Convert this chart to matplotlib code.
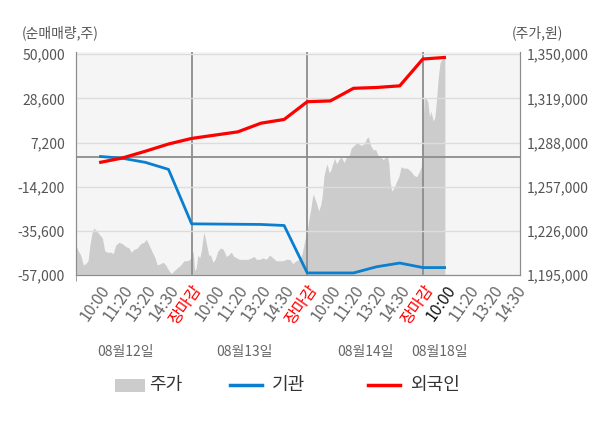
import matplotlib
matplotlib.use("Agg")
import matplotlib.pyplot as plt
import matplotlib.transforms as mtransforms
from matplotlib.patches import Rectangle
from matplotlib.lines import Line2D
from matplotlib.ticker import FuncFormatter

plt.rcParams['font.family'] = ['Noto Sans CJK KR', 'DejaVu Sans']

# ---- data ----
tick_labels = ["10:00", "11:20", "13:20", "14:30", "장마감"] * 3 + ["10:00", "11:20", "13:20", "14:30"]
date_labels = ["08월12일", "08월13일", "08월14일", "08월18일"]

# net buying (shares) at each time slot
flow_pos = [1, 2, 3, 4, 5, 6, 7, 8, 9, 10, 11, 12, 13, 14, 15, 16]
foreign = [-2500, -300, 3000, 6500, 9200, 10800, 12400, 16600, 18400, 27000,
           27400, 33500, 33900, 34700, 47700, 48500]
institution = [500, -400, -2400, -5800, -32200, -32300, -32400, -32500, -33000, -56000,
               -56000, -56000, -53000, -51200, -53400, -53400]

# stock price (won)
price_pos = [0.00, 0.09, 0.20, 0.32, 0.42, 0.52, 0.61, 0.70, 0.78, 0.89, 0.99, 1.14, 1.24, 1.35,
             1.50, 1.61, 1.72, 1.86, 2.00, 2.15, 2.29, 2.39, 2.51, 2.65, 2.80, 2.94, 3.04, 3.16,
             3.30, 3.42, 3.51, 3.66, 3.77, 3.88, 4.02, 4.12, 4.24, 4.38, 4.53, 4.67, 4.81, 4.93,
             5.03, 5.07, 5.13, 5.20, 5.27, 5.35, 5.42, 5.49, 5.53, 5.59, 5.65, 5.74, 5.82, 5.92,
             6.02, 6.14, 6.26, 6.37, 6.50, 6.60, 6.71, 6.83, 6.95, 7.06, 7.18, 7.29, 7.44, 7.58,
             7.70, 7.80, 7.94, 8.08, 8.23, 8.37, 8.52, 8.66, 8.81, 8.95, 9.09, 9.24, 9.38, 9.52,
             9.67, 9.78, 9.89, 9.97, 10.00, 10.07, 10.15, 10.22, 10.26, 10.32, 10.41, 10.49, 10.58,
             10.65, 10.72, 10.80, 10.86, 10.94, 11.01, 11.08, 11.18, 11.27, 11.37, 11.47, 11.59,
             11.70, 11.80, 11.90, 12.02, 12.14, 12.24, 12.33, 12.45, 12.57, 12.64, 12.74, 12.85,
             12.96, 13.06, 13.17, 13.29, 13.39, 13.46, 13.53, 13.58, 13.65, 13.75, 13.87, 13.96,
             14.06, 14.18, 14.32, 14.47, 14.61, 14.73, 14.83, 14.93, 15.00, 15.06, 15.13, 15.21,
             15.29, 15.35, 15.45, 15.52, 15.59, 15.66, 15.74, 15.81, 15.88, 15.95]
price = [1216000, 1212000, 1209000, 1202000, 1203000, 1205000, 1217000, 1225000, 1228000, 1226000,
         1224000, 1221000, 1212000, 1211000, 1211000, 1210000, 1216000, 1218000, 1217000, 1215000,
         1214000, 1211000, 1213000, 1214000, 1217000, 1218000, 1220000, 1216000, 1211000, 1207000,
         1202000, 1203000, 1204000, 1202000, 1198000, 1196000, 1198000, 1200000, 1202000, 1205000,
         1205000, 1206000, 1211000,
         1211000, 1198000, 1200000, 1209000, 1207000, 1212000, 1221000, 1225000, 1221000, 1216000,
         1209000, 1209000, 1204000, 1206000, 1212000, 1214000, 1213000, 1208000, 1209000, 1211000,
         1208000, 1207000, 1206000, 1206000, 1206000, 1206000, 1207000, 1208000, 1206000, 1206000,
         1207000, 1206000, 1209000, 1207000, 1205000, 1205000, 1205000, 1206000, 1206000, 1203000,
         1205000, 1206000, 1210000, 1219000, 1224000,
         1226000, 1234000, 1241000, 1249000, 1252000, 1249000, 1245000, 1240000, 1244000, 1251000,
         1264000, 1270000, 1273000, 1267000, 1268000, 1272000, 1277000, 1273000, 1276000, 1278000,
         1274000, 1278000, 1278000, 1284000, 1286000, 1288000, 1287000, 1286000, 1287000, 1291000,
         1292000, 1286000, 1283000, 1283000, 1279000, 1278000, 1276000, 1278000, 1279000, 1273000,
         1261000, 1254000, 1256000, 1261000, 1264000, 1271000, 1270000, 1270000, 1268000, 1265000,
         1264000, 1267000, 1271000,
         1300000, 1320000, 1319000, 1317000, 1306000, 1310000, 1303000, 1306000, 1318000, 1333000,
         1344000, 1346000, 1347000, 1347000]

left_ticks = [-57000, -35600, -14200, 7200, 28600, 50000]
right_ticks = [1195000, 1226000, 1257000, 1288000, 1319000, 1350000]
day_bounds = [0, 5, 10, 15]

# ---- figure ----
fig = plt.figure(figsize=(6.0, 4.28), dpi=100)
fig.patch.set_facecolor('white')
ax = fig.add_axes([76/600, 1-275/428, 444/600, 223/428])
ax2 = ax.twinx()
ax.set_zorder(ax2.get_zorder() + 1)
ax.patch.set_visible(False)
ax2.patch.set_visible(True)
ax2.set_facecolor('#f5f5f5')

xmax = 19.2
ax.set_xlim(0, xmax)

# price area
ax2.fill_between(price_pos, 1195000, price, color='#cccccc', lw=0)
ax2.set_ylim(1195000, 1351600)
ax2.set_yticks(right_ticks)
ax2.yaxis.set_major_formatter(FuncFormatter(lambda v, p: f"{int(v):,}"))
ax2.tick_params(axis='y', length=0, pad=5, labelsize=10, labelcolor='#555555')

# flows
ax.set_ylim(-57000, 51100)
ax.set_yticks(left_ticks)
ax.yaxis.set_major_formatter(FuncFormatter(lambda v, p: f"{int(v):,}"))
ax.tick_params(axis='y', length=0, pad=8, labelsize=10, labelcolor='#555555')
ax.grid(axis='y', color='#dcdcdc', lw=1)
ax.axhline(0, color='#8c8c8c', lw=1.3, zorder=1.5)
for b in day_bounds[1:]:
    ax.axvline(b, color='#8c8c8c', lw=1.3, zorder=1.5)

ax.plot(flow_pos, institution, color='#0a7fcf', lw=2.0, zorder=3, solid_capstyle='butt')
ax.plot(flow_pos, foreign, color='#ff0000', lw=2.3, zorder=4, solid_capstyle='butt')

# spines
for a in (ax, ax2):
    a.spines['top'].set_visible(False)
    for s in ('left', 'right', 'bottom'):
        a.spines[s].set_color('#8c8c8c')

# x axis
ax.set_xticks(range(1, len(tick_labels) + 1))
ax.set_xticklabels(tick_labels, rotation=55, ha='right', va='top', rotation_mode='anchor')
ax.set_xticks(day_bounds, minor=True)
ax.tick_params(axis='x', which='major', length=0, pad=5, labelsize=11.5)
ax.tick_params(axis='x', which='minor', length=4, color='#8c8c8c')
for i, lbl in enumerate(ax.get_xticklabels()):
    if lbl.get_text() == '장마감':
        lbl.set_color('#ff0000')
    elif i == 15:
        lbl.set_color('#111111')
    else:
        lbl.set_color('#666666')

# date labels
date_pos = [2.12, 7.3, 12.5, 15.74]
trans = mtransforms.blended_transform_factory(ax.transData, fig.transFigure)
for p, t in zip(date_pos, date_labels):
    ax.text(p, 1-352/428, t, transform=trans, ha='center', va='center',
            fontsize=10, color='#666666', clip_on=False)

# axis titles
fig.text(22/600, 1-33/428, "(순매매량,주)", ha='left', va='center', fontsize=10, color='#555555')
fig.text(563/600, 1-33/428, "(주가,원)", ha='right', va='center', fontsize=10, color='#555555')

# legend
ly = 1-385/428
fig.add_artist(Rectangle((115/600, 1-392/428), 30/600, 13/428, transform=fig.transFigure,
                         facecolor='#cccccc', edgecolor='none'))
fig.text(149/600, ly, "주가", ha='left', va='center', fontsize=13, color='#333333')
fig.add_artist(Line2D([230/600, 262/600], [ly, ly], transform=fig.transFigure, color='#0a7fcf', lw=2.5))
fig.text(272/600, ly, "기관", ha='left', va='center', fontsize=13, color='#333333')
fig.add_artist(Line2D([368/600, 400/600], [ly, ly], transform=fig.transFigure, color='#ff0000', lw=2.5))
fig.text(410/600, ly, "외국인", ha='left', va='center', fontsize=13, color='#333333')

fig.savefig("out.png", dpi=100)
